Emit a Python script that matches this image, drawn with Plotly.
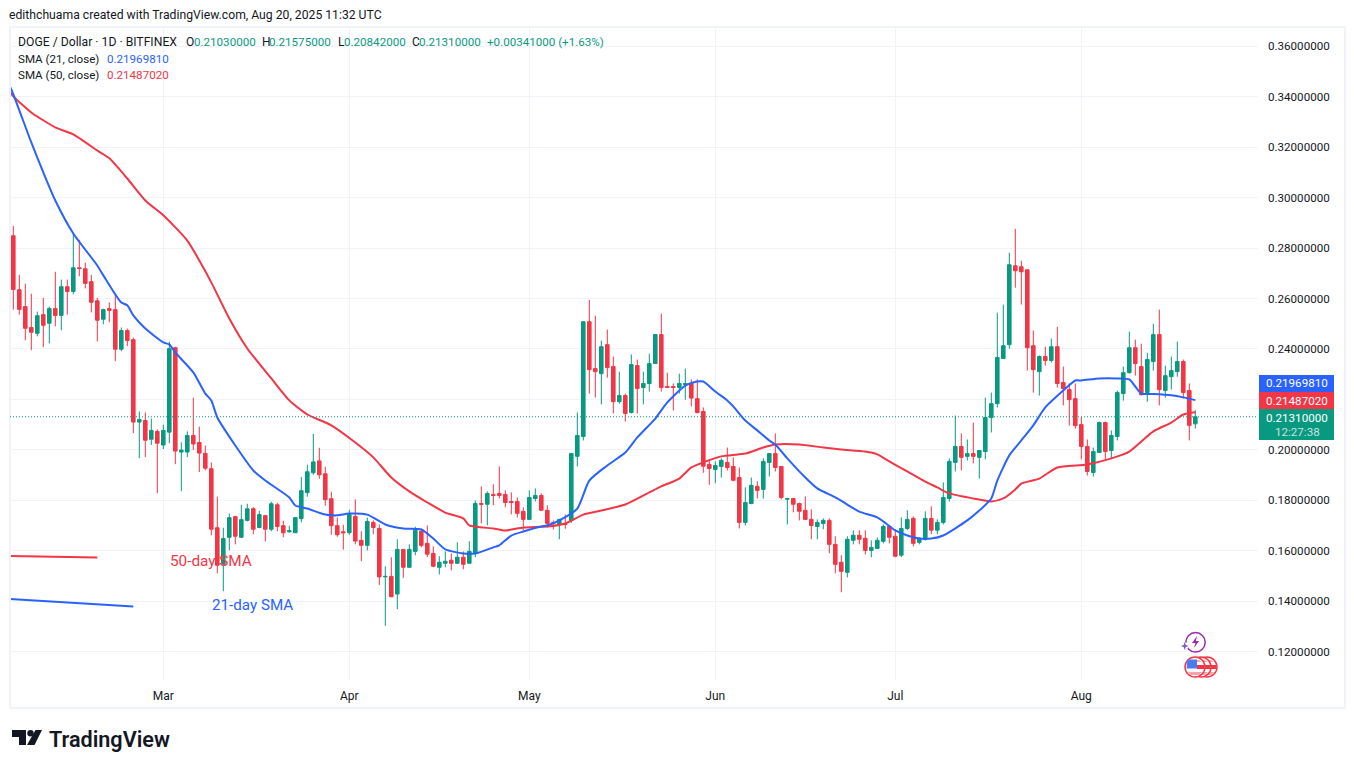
#!/usr/bin/env python3
"""DOGE / Dollar daily candles with 21 and 50 day SMA, TradingView look."""
import numpy as np
import pandas as pd
import plotly.graph_objects as go

W, H = 1354, 768
FONT = "Roboto"
GREEN, RED, BLUE = "#089981", "#F23645", "#2962FF"
INK, GRID = "#131722", "#F0F3FA"

# all prices below are in thousandths of a dollar
opens_m = [
    284.9,263.5,256.8,248.5,246.2,253.6,250.2,256.0,253.3,264.7,262.8,272.2,271.8,266.7,259.1,251.8,256.0,255.6,239.9,247.3,
    243.7,211.0,211.6,204.2,207.3,201.9,207.0,240.5,199.1,199.1,205.7,202.9,198.6,192.5,169.1,154.6,165.3,173.5,165.3,172.0,
    176.6,169.2,173.9,168.5,178.2,169.9,167.5,167.1,172.7,183.0,190.9,195.6,190.5,180.6,169.9,167.5,167.1,173.6,164.1,162.1,
    171.2,168.8,149.6,149.8,142.8,160.5,153.4,159.7,167.7,162.9,158.9,153.4,155.0,156.2,155.0,157.4,155.0,158.9,178.7,178.4,
    182.3,182.7,182.3,179.5,179.5,175.6,172.4,180.7,181.9,176.0,171.1,170.7,170.6,172.0,197.4,205.3,250.8,232.2,230.2,241.7,
    233.0,219.1,221.5,214.8,233.4,224.7,226.3,234.2,245.7,225.1,225.1,224.7,225.9,226.3,220.3,215.2,194.2,192.2,193.4,195.0,
    193.4,189.0,171.2,178.7,185.5,184.3,195.0,198.5,193.4,180.4,180.7,178.7,176.0,172.4,169.6,170.8,172.0,162.5,155.4,151.4,
    164.1,166.1,164.9,160.1,160.9,163.7,169.6,165.7,158.2,168.8,172.8,163.3,164.5,172.8,168.1,171.2,180.7,195.0,201.3,197.4,
    198.5,197.0,199.3,212.8,218.3,236.2,241.7,273.0,272.6,271.4,241.3,231.0,237.0,235.4,240.9,226.7,223.9,220.3,210.0,201.3,
    191.0,198.9,210.8,199.7,205.3,222.3,230.6,240.5,233.0,222.7,235.0,245.7,223.5,229.0,231.0,235.0,223.5,210.3,
]
highs_m = [
    288.8,269.4,265.9,261.9,254.8,260.3,256.8,270.6,267.5,267.5,286.2,283.3,274.2,269.4,260.3,256.0,258.4,261.9,248.5,248.1,
    244.5,215.2,214.8,212.4,208.1,210.0,242.9,240.9,203.0,207.3,220.7,209.2,201.7,195.0,181.4,169.1,174.7,173.5,178.2,178.6,
    177.3,175.8,173.9,179.4,179.0,171.9,169.9,173.1,189.2,194.1,206.3,200.8,193.3,183.4,173.1,170.3,176.2,180.3,167.7,173.1,
    172.0,170.4,153.8,157.4,164.5,160.5,162.5,169.5,168.8,170.0,161.7,157.8,159.7,158.9,163.3,159.7,163.7,179.9,185.5,183.5,
    186.3,193.4,183.9,183.1,181.1,177.2,183.9,184.7,182.7,178.0,172.0,172.6,174.3,198.8,214.8,250.8,259.5,253.2,243.3,247.7,
    237.0,231.0,222.3,237.8,235.8,231.0,238.1,245.7,254.0,230.6,226.3,230.2,232.2,227.9,227.9,216.8,196.2,195.4,196.6,200.9,
    197.0,193.0,185.1,189.0,187.5,196.6,198.5,206.5,193.4,180.7,180.7,179.1,181.5,176.4,172.4,172.8,172.8,165.7,158.2,165.7,
    168.1,168.1,168.1,164.1,165.3,170.4,170.0,168.5,173.2,176.0,173.6,165.3,175.6,177.6,172.4,187.1,196.6,213.6,206.5,204.1,
    210.8,199.7,220.7,222.7,254.4,257.6,278.1,287.6,275.0,271.4,247.3,237.4,240.9,244.1,248.8,233.0,226.3,226.3,213.1,204.1,
    200.9,211.2,211.2,207.7,223.5,233.0,246.9,243.7,242.1,238.5,250.0,255.6,233.4,237.0,242.9,235.8,226.3,215.75,
]
lows_m = [
    255.6,253.6,243.4,239.5,245.0,240.7,242.2,249.0,247.4,253.6,261.7,268.8,264.0,254.5,243.0,249.8,250.6,235.1,239.1,241.1,
    206.6,196.7,197.1,201.9,182.8,200.3,202.6,194.3,183.6,197.1,199.9,191.2,191.9,166.1,151.0,143.9,160.1,162.5,165.0,171.6,
    166.5,168.9,163.7,167.7,167.7,165.3,167.1,167.0,171.2,181.4,190.1,188.5,177.8,166.3,165.5,160.4,166.3,162.5,155.8,160.1,
    166.5,146.4,130.2,141.7,136.8,149.2,153.2,158.2,161.3,157.4,153.4,150.6,153.4,152.2,155.0,152.6,155.0,157.4,170.8,170.0,
    178.0,180.7,177.2,174.4,173.2,168.1,172.4,179.5,176.0,169.2,168.4,164.5,168.7,171.0,193.4,203.7,222.3,220.7,218.0,228.6,
    214.4,218.3,211.2,214.4,214.4,218.0,223.1,234.2,223.1,224.7,215.6,222.3,219.9,217.2,214.4,190.9,186.1,186.7,189.0,191.8,
    187.5,168.8,170.0,178.4,180.7,180.7,189.4,191.4,180.3,170.4,175.2,172.0,172.4,164.5,164.5,168.5,159.0,151.0,143.5,149.4,
    162.5,162.5,158.5,157.4,160.9,162.9,162.9,157.4,157.4,168.1,161.7,162.5,164.0,166.5,166.5,170.4,179.5,191.4,191.8,195.8,
    194.6,188.6,196.2,206.9,216.8,236.2,240.1,264.3,257.6,231.4,222.7,221.5,233.4,234.6,224.7,217.6,209.6,208.4,196.2,189.8,
    189.4,198.9,196.2,196.2,203.7,219.5,230.2,229.4,221.5,219.1,231.4,217.6,220.7,223.9,229.0,220.3,203.7,208.42,
]
closes_m = [
    263.6,255.7,248.2,246.6,253.2,249.4,256.0,253.3,264.7,262.8,272.2,271.9,266.0,258.5,251.4,255.6,255.3,239.9,247.3,243.4,
    211.0,212.0,203.8,207.7,202.6,207.7,240.1,199.5,199.9,205.7,202.3,198.7,192.7,168.5,154.2,164.8,173.1,165.7,172.3,176.6,
    168.5,174.3,168.5,178.6,169.6,167.1,167.9,173.1,183.8,191.3,195.2,190.1,180.2,169.9,166.3,167.1,174.3,163.8,162.1,171.6,
    169.2,149.6,149.8,141.7,160.5,153.4,160.5,168.1,162.1,158.6,153.8,155.4,155.8,155.0,157.4,154.6,159.7,178.7,178.4,182.7,
    181.9,181.9,179.1,179.1,174.8,172.4,181.1,181.9,176.0,170.8,170.9,172.4,170.4,198.5,205.7,250.8,231.8,231.0,240.9,232.6,
    219.1,221.5,214.4,233.8,224.3,226.3,234.2,245.7,224.7,224.7,224.7,226.3,226.3,220.5,214.8,193.5,192.6,193.8,195.8,193.0,
    187.9,171.2,179.1,185.9,183.9,195.4,198.5,193.0,181.1,180.7,178.4,175.6,172.4,170.0,171.2,172.0,162.5,154.6,151.8,164.5,
    166.1,164.5,160.1,161.3,164.1,169.6,165.3,157.8,168.8,172.4,162.9,164.9,172.8,168.1,171.2,181.1,195.4,201.3,197.0,198.5,
    197.4,199.7,212.8,218.3,236.6,241.3,273.4,271.0,270.6,240.5,231.8,237.0,235.4,240.9,226.3,224.3,219.9,209.6,201.3,191.4,
    199.3,210.8,199.3,205.7,222.7,230.6,240.5,234.2,221.9,235.8,245.7,223.9,229.4,231.4,235.0,222.7,209.7,213.1,
]

# SMA lines, read at these day numbers (0 = first candle, Feb 4)
sma21_days = [-1,0,3,5,7,10,14,15,18,19,20,22,25,26,27,30,32,33,34,37,40,42,46,47,49,52,54,56,59,62,65,68,70,72,75,77,80,81,83,85,88,89,91,94,96,99,102,104,107,109,112,114,115,117,119,120,122,124,126,127,129,132,134,137,139,141,144,145,147,149,151,153,155,159,161,163,164,166,168,170,172,175,177,178,181,184,186,187,188,190,193,195,197]
sma21_m = [346.5,341.0,321.9,310.0,298.9,285.8,273.1,269.2,258.4,257.3,253.3,248.1,242.6,241.8,238.6,230.7,222.3,219.6,212.8,201.7,191.8,187.8,181.1,177.9,176.7,174.3,174.0,174.7,174.3,170.4,168.8,168.4,164.8,160.5,158.9,158.9,161.3,162.1,166.0,167.6,169.6,170.0,172.0,176.7,187.8,193.8,198.9,204.9,212.4,218.8,225.5,227.1,227.1,223.1,219.6,217.2,211.6,207.7,203.7,202.1,196.6,189.0,184.7,181.1,178.3,175.5,173.2,171.6,168.0,166.0,164.8,164.8,166.0,172.0,175.9,180.7,187.8,197.8,203.7,209.7,216.8,223.5,227.5,227.5,228.3,228.3,227.9,225.1,222.3,222.1,221.6,220.8,219.7]
sma50_days = [-1,0,3,7,10,14,16,19,22,25,29,31,33,36,39,43,46,49,53,57,60,63,66,69,72,75,76,80,82,85,89,92,95,98,102,106,108,111,113,115,118,122,125,127,131,135,138,142,144,146,149,152,154,156,160,163,165,167,168,171,174,179,183,186,190,193,195,197]
sma50_m = [343.3,340.2,333.8,327.9,325.1,318.7,315.6,307.6,298.9,293.0,283.0,275.1,266.4,252.1,240.2,228.3,219.6,214.0,209.7,202.9,197.0,189.0,183.5,179.1,175.1,172.8,170.0,168.8,168.0,169.2,169.6,170.8,174.3,175.9,178.3,183.1,185.5,188.6,193.0,195.0,197.4,198.5,200.9,202.1,202.1,200.9,200.1,199.3,198.2,195.4,191.4,187.4,185.1,182.7,180.7,179.5,180.7,184.3,186.6,188.6,193.0,194.2,196.6,199.3,207.3,210.8,214.0,214.87]

# hand drawn legend strokes on the chart
note50_days, note50_m = [-1, 14], [157.9, 157.3]
note21_days, note21_m = [-1, 20], [140.9, 137.9]

price_ticks = [0.12,0.14,0.16,0.18,0.20,0.22,0.24,0.26,0.28,0.30,0.32,0.34,0.36]
price_labels = ["0.12000000","0.14000000","0.16000000","0.18000000","0.20000000","","0.24000000","0.26000000","0.28000000","0.30000000","0.32000000","0.34000000","0.36000000"]
month_ticks = ["2025-03-01","2025-04-01","2025-05-01","2025-06-01","2025-07-01","2025-08-01"]
month_labels = ["Mar","Apr","May","Jun","Jul","Aug"]
last_close = 0.2131

start = pd.Timestamp("2025-02-04")
dates = pd.date_range(start, periods=len(closes_m), freq="D")


def to_date(days):
    return [start + pd.Timedelta(days=int(d)) for d in days]


def px(x):
    return x / W


def py(y):
    return 1 - y / H


def milli(vals):
    return np.array(vals) / 1000


fig = go.Figure()
fig.add_trace(go.Candlestick(
    x=dates, open=milli(opens_m), high=milli(highs_m), low=milli(lows_m), close=milli(closes_m),
    increasing=dict(line=dict(color=GREEN, width=1), fillcolor=GREEN),
    decreasing=dict(line=dict(color=RED, width=1), fillcolor=RED),
    whiskerwidth=0, showlegend=False, name="DOGE / Dollar",
))
for days, vals, color, name, shape in [
    (sma50_days, sma50_m, RED, "SMA 50", "spline"),
    (sma21_days, sma21_m, BLUE, "SMA 21", "spline"),
    (note50_days, note50_m, RED, "50-day SMA", "linear"),
    (note21_days, note21_m, BLUE, "21-day SMA", "linear"),
]:
    line = dict(color=color, width=2, shape=shape)
    if shape == "spline":
        line["smoothing"] = 0.6
    fig.add_trace(go.Scatter(x=to_date(days), y=milli(vals), mode="lines", name=name,
                             line=line, showlegend=False))

fig.update_layout(
    width=W, height=H, margin=dict(l=0, r=0, t=0, b=0),
    paper_bgcolor="white", plot_bgcolor="white",
    font=dict(family=FONT, color=INK, size=12),
    boxgap=0.15, hovermode=False,
    xaxis=dict(
        domain=[px(10), px(1258)], range=["2025-02-03 10:48", "2025-08-30 10:48"],
        rangeslider=dict(visible=False), tickmode="array", tickvals=month_ticks, ticktext=month_labels,
        gridcolor=GRID, gridwidth=1, showline=False, zeroline=False, ticks="",
        ticklabelstandoff=7, tickfont=dict(size=12, color=INK),
    ),
    yaxis=dict(
        domain=[py(680), py(28)], range=[0.1087, 0.3673], side="right",
        tickmode="array", tickvals=price_ticks, ticktext=price_labels,
        gridcolor=GRID, gridwidth=1, showline=False, zeroline=False, ticks="",
        ticklabelstandoff=9, tickfont=dict(size=11.6, color=INK),
    ),
)

# page frame and last price line
fig.add_shape(type="rect", xref="paper", yref="paper", x0=px(10), x1=px(1345), y0=py(708), y1=py(27),
              line=dict(color=GRID, width=2), fillcolor="rgba(0,0,0,0)")
fig.add_shape(type="line", xref="paper", yref="y", x0=px(10), x1=px(1258), y0=last_close, y1=last_close,
              line=dict(color=GREEN, width=1, dash="1px,2px"))

# price tags on the axis
for y0, y1, color in [(375, 392, BLUE), (392, 409, RED), (409, 440, GREEN)]:
    fig.add_shape(type="rect", xref="paper", yref="paper", x0=px(1259), x1=px(1334), y0=py(y1), y1=py(y0),
                  fillcolor=color, line=dict(width=0))


def path(points):
    return "M " + " L ".join(f"{px(x):.5f},{py(y):.5f}" for x, y in points) + " Z"


def circle(cx, cy, r, fill, line, width=1.5):
    fig.add_shape(type="circle", xref="paper", yref="paper", x0=px(cx - r), x1=px(cx + r), y0=py(cy + r), y1=py(cy - r),
                  fillcolor=fill, line=dict(color=line, width=width))


def poly(points, fill):
    fig.add_shape(type="path", xref="paper", yref="paper", path=path(points), fillcolor=fill, line=dict(width=0))


# event icons bottom right
circle(1195.5, 642.3, 9.7, "white", "#9C27B0")
poly([(1197, 636), (1192, 643), (1195.5, 643), (1194, 648), (1199, 641), (1195.8, 641)], "#9C27B0")
circle(1184.7, 646, 3.5, "white", "white", 0)
poly([(1184.7, 642), (1185.7, 645), (1188.7, 646), (1185.7, 647), (1184.7, 650), (1183.7, 647), (1180.7, 646), (1183.7, 645)], "#7E57C2")
for cx in [1207, 1201, 1195]:
    circle(cx, 667, 10, "white", RED)
    poly([(cx - 4, 660), (cx + 4, 660), (cx + 6.5, 662), (cx - 6.5, 662)], "#F7A1A8")
    poly([(cx + 2, 665), (cx + 9, 665), (cx + 9, 669), (cx + 2, 669)], RED)
    poly([(cx - 7, 672), (cx + 7, 672), (cx + 4, 675), (cx - 4, 675)], "#F7A1A8")
poly([(1187.5, 659.5), (1197, 659.5), (1197, 668.5), (1186.5, 668.5)], "#4A7CF0")

# TradingView logo glyph
poly([(12, 730), (26, 730), (26, 745), (19, 745), (19, 737), (12, 737)], INK)
circle(30.5, 733.3, 3.2, INK, INK, 0)
poly([(35.5, 730), (42, 730), (34.5, 745), (27, 745)], INK)


def label(x, y, text, color=INK, size=12, anchor="left", weight=None):
    fig.add_annotation(x=px(x), y=py(y), xref="paper", yref="paper", text=text, showarrow=False,
                       xanchor=anchor, yanchor="middle", borderpad=0, borderwidth=0,
                       font=dict(family=FONT, size=size, color=color, weight=weight))


label(9, 15, "edithchuama created with TradingView.com, Aug 20, 2025 11:32 UTC", size=12.2)
label(18, 42, "DOGE / Dollar · 1D · BITFINEX", size=12.2)
for x, text in [(186, "O"), (262, "H"), (338, "L"), (412, "C")]:
    label(x, 42, text)
for x, text in [(194, "0.21030000"), (269, "0.21575000"), (344, "0.20842000"), (419, "0.21310000"), (487, "+0.00341000 (+1.63%)")]:
    label(x, 42, text, GREEN, 11.6)
label(18, 59, "SMA (21, close)", size=11.6)
label(107, 59, "0.21969810", BLUE, 11.6)
label(18, 75, "SMA (50, close)", size=11.6)
label(107, 75, "0.21487020", RED, 11.6)

label(170, 561, "50-day SMA", RED, 15.3)
label(212, 605, "21-day SMA", BLUE, 15.2)

label(1297, 383.5, "0.21969810", "white", 11.6, "center")
label(1297, 400.5, "0.21487020", "white", 11.6, "center")
label(1297, 418, "0.21310000", "white", 11.6, "center")
label(1297, 431.5, "12:27:38", "rgba(255,255,255,0.75)", 11.6, "center")

label(49, 739, "TradingView", INK, 21.6, weight=600)

fig.write_html("out.html", config=dict(displayModeBar=False),
               post_script="document.body.style.margin='0';document.body.style.overflow='hidden';")
print("saved", len(dates), len(opens_m), len(highs_m), len(lows_m), len(closes_m))
